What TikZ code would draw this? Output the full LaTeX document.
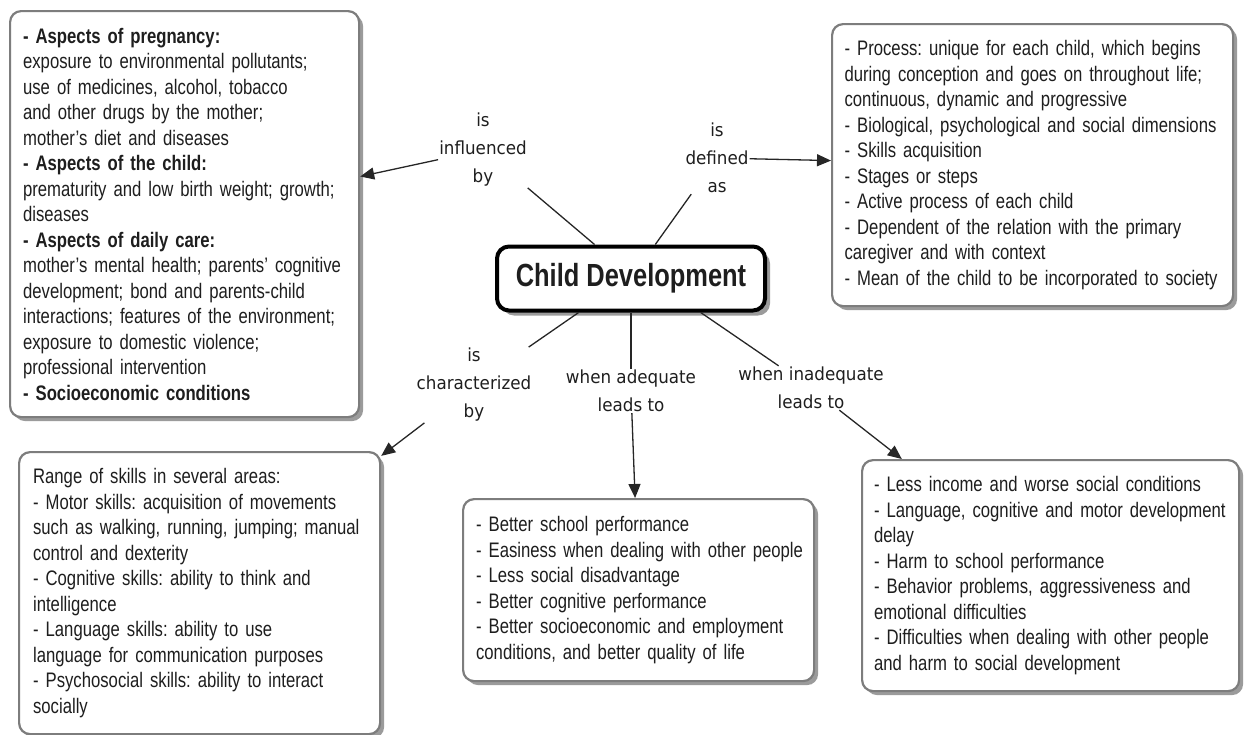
\documentclass[tikz,border=0pt]{standalone}
\usepackage{fontspec}
\setmainfont{Liberation Sans}[FakeStretch=0.795]
\newfontfamily\linkfont{DejaVu Sans}[FakeStretch=0.93]
\usetikzlibrary{arrows.meta,shadows}
\definecolor{boxgray}{RGB}{125,125,125}
\definecolor{shadowgray}{RGB}{155,155,155}
\definecolor{inkgray}{RGB}{30,30,30}
\frenchspacing
\hyphenpenalty=10000

\begin{document}
\begin{tikzpicture}[x=1pt,y=-1pt,
  box/.style={draw=boxgray,line width=2.2pt,rounded corners=11pt,fill=white,
    anchor=north west,align=left,inner xsep=13pt,inner ysep=0pt,
    font=\fontsize{21}{25.5}\selectfont,text=inkgray,
    execute at begin node={\rightskip=0pt plus 1fil minus 60pt\relax},
    drop shadow={shadow xshift=4pt,shadow yshift=-4pt,fill=shadowgray,opacity=1}},
  topic/.style={draw=black,line width=4pt,rounded corners=12pt,fill=white,
    minimum width=268pt,minimum height=64pt,
    font=\fontsize{32}{36}\selectfont\bfseries,text=inkgray,
    drop shadow={shadow xshift=5pt,shadow yshift=-5pt,fill=shadowgray,opacity=1}},
  relation/.style={align=center,inner sep=1pt,text=inkgray,
    font=\linkfont\fontsize{18}{28}\selectfont},
  link/.style={line width=1.3pt,draw=black!85},
  linkarrow/.style={link,-{Triangle[length=14pt,width=12pt]}}]
  \useasboundingbox (0,0) rectangle (1245,734);

  \node[topic] (cd) at (631,278.5) {Child Development};

  \node[box,text width=323pt,minimum height=406pt] (tl) at (9,10)
    {\textbf{- Aspects of pregnancy:}\\
     exposure to environmental pollutants;\\
     use of medicines, alcohol, tobacco\\
     and other drugs by the mother;\\
     mother's diet and diseases\\
     \textbf{- Aspects of the child:}\\
     prematurity and low birth weight; growth;\\
     diseases\\
     \textbf{- Aspects of daily care:}\\
     mother's mental health; parents' cognitive\\
     development; bond and parents-child\\
     interactions; features of the environment;\\
     exposure to domestic violence;\\
     professional intervention\\
     \textbf{- Socioeconomic conditions}};
  \node[box,text width=376pt,minimum height=282pt,inner xsep=12.5pt] (tr) at (831,23)
    {- Process: unique for each child, which begins\\
     during conception and goes on throughout life;\\
     continuous, dynamic and progressive\\
     - Biological, psychological and social dimensions\\
     - Skills acquisition\\
     - Stages or steps\\
     - Active process of each child\\
     - Dependent of the relation with the primary\\
     caregiver and with context\\
     - Mean of the child to be incorporated to society};
  \node[box,text width=333pt,minimum height=282pt,inner xsep=14pt] (bl) at (18,451)
    {Range of skills in several areas:\\
     - Motor skills: acquisition of movements\\
     such as walking, running, jumping; manual\\
     control and dexterity\\
     - Cognitive skills: ability to think and\\
     intelligence\\
     - Language skills: ability to use\\
     language for communication purposes\\
     - Psychosocial skills: ability to interact\\
     socially};
  \node[box,text width=325pt,minimum height=182pt] (bm) at (462,498)
    {- Better school performance\\
     - Easiness when dealing with other people\\
     - Less social disadvantage\\
     - Better cognitive performance\\
     - Better socioeconomic and employment\\
     conditions, and better quality of life};
  \node[box,text width=353pt,minimum height=231pt,inner xsep=12pt] (br) at (861,459)
    {- Less income and worse social conditions\\
     - Language, cognitive and motor development\\
     delay\\
     - Harm to school performance\\
     - Behavior problems, aggressiveness and\\
     emotional difficulties\\
     - Difficulties when dealing with other people\\
     and harm to social development};

  \node[relation] (lInfl) at (483,150) {is\\influenced\\by};
  \node[relation] (lDef) at (717,158) {is\\defined\\as};
  \node[relation] (lChar) at (474,385) {is\\characterized\\by};
  \node[relation] (lAdeq) at (631,391) {when adequate\\leads to};
  \node[relation] (lInad) at (811,388) {when inadequate\\leads to};

  \draw[link] (cd.137) -- (lInfl);
  \draw[linkarrow] (lInfl) -- (tl);
  \draw[link] (cd) -- (lDef);
  \draw[linkarrow] (lDef) -- (tr);
  \draw[link] (cd.-147) -- (lChar);
  \draw[linkarrow] (lChar) -- (bl);
  \draw[link] (cd) -- (lAdeq);
  \draw[linkarrow] (lAdeq) -- (bm);
  \draw[link] (cd.-26) -- (lInad);
  \draw[linkarrow] (lInad) -- (br);
\end{tikzpicture}
\end{document}
